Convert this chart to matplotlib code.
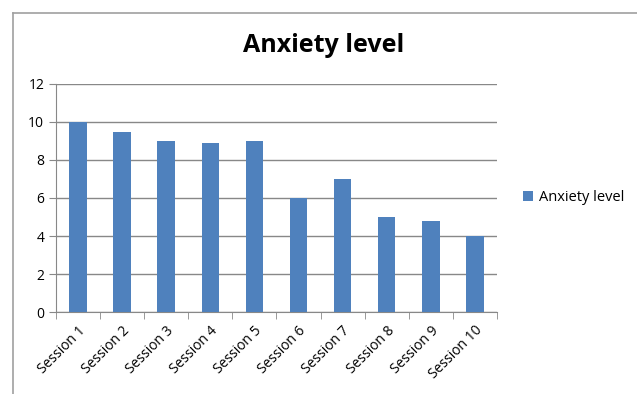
import matplotlib.pyplot as plt
from matplotlib.lines import Line2D

sessions = ["Session 1", "Session 2", "Session 3", "Session 4", "Session 5",
            "Session 6", "Session 7", "Session 8", "Session 9", "Session 10"]
anxiety = [10, 9.45, 9, 8.9, 9, 6, 7, 5, 4.8, 4]

plt.rcParams['font.family'] = ['Open Sans', 'DejaVu Sans']

fig = plt.figure(figsize=(6.37, 3.94), dpi=100)
ax = fig.add_axes([0.088, 0.208, 0.692, 0.579])

x = range(len(sessions))
ax.bar(x, anxiety, width=0.4, color="#4f81bd", label="Anxiety level", zorder=3)

ax.set_ylim(0, 12)
ax.set_yticks(range(0, 13, 2))
ax.set_xlim(-0.5, len(sessions) - 0.5)
ax.set_xticks(x)
ax.set_xticklabels(sessions, rotation=45, ha="right", rotation_mode="anchor", fontsize=10)
ax.tick_params(axis="x", length=0, pad=8)
ax.set_xticks([i - 0.5 for i in range(len(sessions) + 1)], minor=True)
ax.tick_params(axis="x", which="minor", length=5, color="#888888")
ax.tick_params(axis="y", length=5, color="#888888", labelsize=10)
ax.grid(axis="y", color="#888888", linewidth=1, zorder=0)

for s in ["top", "right"]:
    ax.spines[s].set_visible(False)
for s in ["left", "bottom"]:
    ax.spines[s].set_color("#888888")

fig.text(0.508, 0.885, "Anxiety level", ha="center", va="center",
         fontsize=18, fontweight="bold")

ax.legend(loc="center left", bbox_to_anchor=(1.03, 0.5), frameon=False,
          fontsize=10.5, handlelength=0.7, handleheight=0.7, handletextpad=0.4)

# chart frame (top and left edges visible)
fig.add_artist(Line2D([13/637, 13/637], [0, 1 - 13/394], color="#a0a0a0", lw=1.2,
                      transform=fig.transFigure))
fig.add_artist(Line2D([13/637, 1], [1 - 13/394, 1 - 13/394], color="#a0a0a0", lw=1.2,
                      transform=fig.transFigure))

fig.savefig("out.png", dpi=100)
